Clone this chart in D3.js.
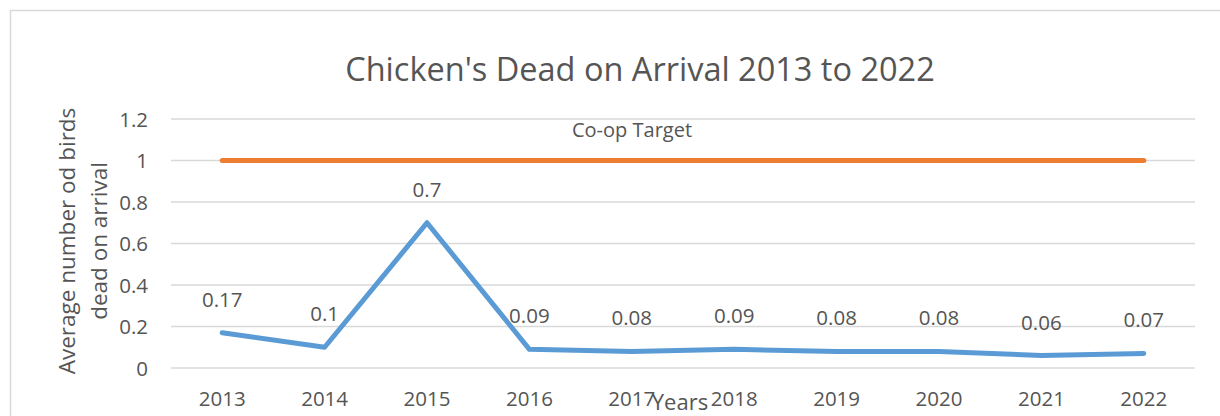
<!DOCTYPE html>
<html>
<head>
<meta charset="utf-8">
<script src="https://cdn.jsdelivr.net/npm/d3@7"></script>
<style>
    body { margin: 0; background: #fff; }
    svg text { font-family: "Open Sans", "Noto Sans", sans-serif; fill: #555555; }
</style>
</head>
<body>
<div id="chart"></div>
<script>
var years = ["2013", "2014", "2015", "2016", "2017", "2018", "2019", "2020", "2021", "2022"];
var deadOnArrival = [0.17, 0.1, 0.7, 0.09, 0.08, 0.09, 0.08, 0.08, 0.06, 0.07];
var coopTarget = [1, 1, 1, 1, 1, 1, 1, 1, 1, 1];
var yTicks = [0, 0.2, 0.4, 0.6, 0.8, 1, 1.2];

var width = 1220,
    height = 416;

var margin = {
    top: 119,
    right: 25,
    bottom: 48,
    left: 171
};

var svg = d3.select("#chart").append("svg")
    .attr("width", width)
    .attr("height", height);

// chart frame
svg.append("rect")
    .attr("x", 10.5)
    .attr("y", 10.5)
    .attr("width", width)
    .attr("height", height)
    .attr("fill", "none")
    .attr("stroke", "#d9d9d9")
    .attr("stroke-width", 1.5);

var x = d3.scaleBand()
    .domain(years)
    .range([margin.left, width - margin.right]);

var y = d3.scaleLinear()
    .domain([0, 1.2])
    .range([height - margin.bottom, margin.top]);

// gridlines
svg.append("g")
    .selectAll("line")
    .data(yTicks)
    .enter().append("line")
    .attr("x1", margin.left)
    .attr("x2", width - margin.right)
    .attr("y1", function (d) { return y(d); })
    .attr("y2", function (d) { return y(d); })
    .attr("stroke", "#d9d9d9")
    .attr("stroke-width", 1.3);

// y axis labels
var yAxis = svg.append("g")
    .attr("transform", "translate(" + (margin.left - 23) + ",0)")
    .call(d3.axisLeft(y).tickValues(yTicks).tickSize(0).tickPadding(0).tickFormat(d3.format("~g")));
yAxis.select(".domain").remove();
yAxis.selectAll("text")
    .style("font-size", "20.5px")
    .attr("fill", "#555555")
    .attr("dy", "0.36em");

// x axis labels
var xAxis = svg.append("g")
    .attr("transform", "translate(0," + y(0) + ")")
    .call(d3.axisBottom(x).tickSize(0).tickPadding(0));
xAxis.select(".domain").remove();
xAxis.selectAll("text")
    .style("font-size", "20.5px")
    .attr("fill", "#555555")
    .attr("y", 38)
    .attr("dy", 0);

var cx = function (d, i) { return x(years[i]) + x.bandwidth() / 2; };

var line = d3.line()
    .x(cx)
    .y(function (d) { return y(d); });

svg.append("path")
    .datum(coopTarget)
    .attr("d", line)
    .attr("fill", "none")
    .attr("stroke", "#ed7d31")
    .attr("stroke-width", 5)
    .attr("stroke-linecap", "round");

svg.append("path")
    .datum(deadOnArrival)
    .attr("d", line)
    .attr("fill", "none")
    .attr("stroke", "#5b9bd5")
    .attr("stroke-width", 5)
    .attr("stroke-linecap", "round")
    .attr("stroke-linejoin", "round");

// data labels
svg.append("g")
    .selectAll("text")
    .data(deadOnArrival)
    .enter().append("text")
    .attr("x", cx)
    .attr("y", function (d) { return y(d) - 26; })
    .attr("text-anchor", "middle")
    .style("font-size", "20.5px")
    .text(function (d) { return d; });

svg.append("text")
    .attr("x", 632)
    .attr("y", 137)
    .attr("text-anchor", "middle")
    .style("font-size", "20px")
    .text("Co-op Target");

// title
svg.append("text")
    .attr("x", 640)
    .attr("y", 81)
    .attr("text-anchor", "middle")
    .style("font-size", "32.5px")
    .text("Chicken's Dead on Arrival 2013 to 2022");

svg.append("text")
    .attr("x", 680)
    .attr("y", 410)
    .attr("text-anchor", "middle")
    .style("font-size", "22px")
    .text("Years");

var yTitle = svg.append("text")
    .attr("transform", "translate(0,241) rotate(-90)")
    .attr("text-anchor", "middle")
    .style("font-size", "22.5px");
yTitle.append("tspan").attr("x", 0).attr("y", 75).text("Average number od birds");
yTitle.append("tspan").attr("x", 0).attr("y", 107).text("dead on arrival");
</script>
</body>
</html>
